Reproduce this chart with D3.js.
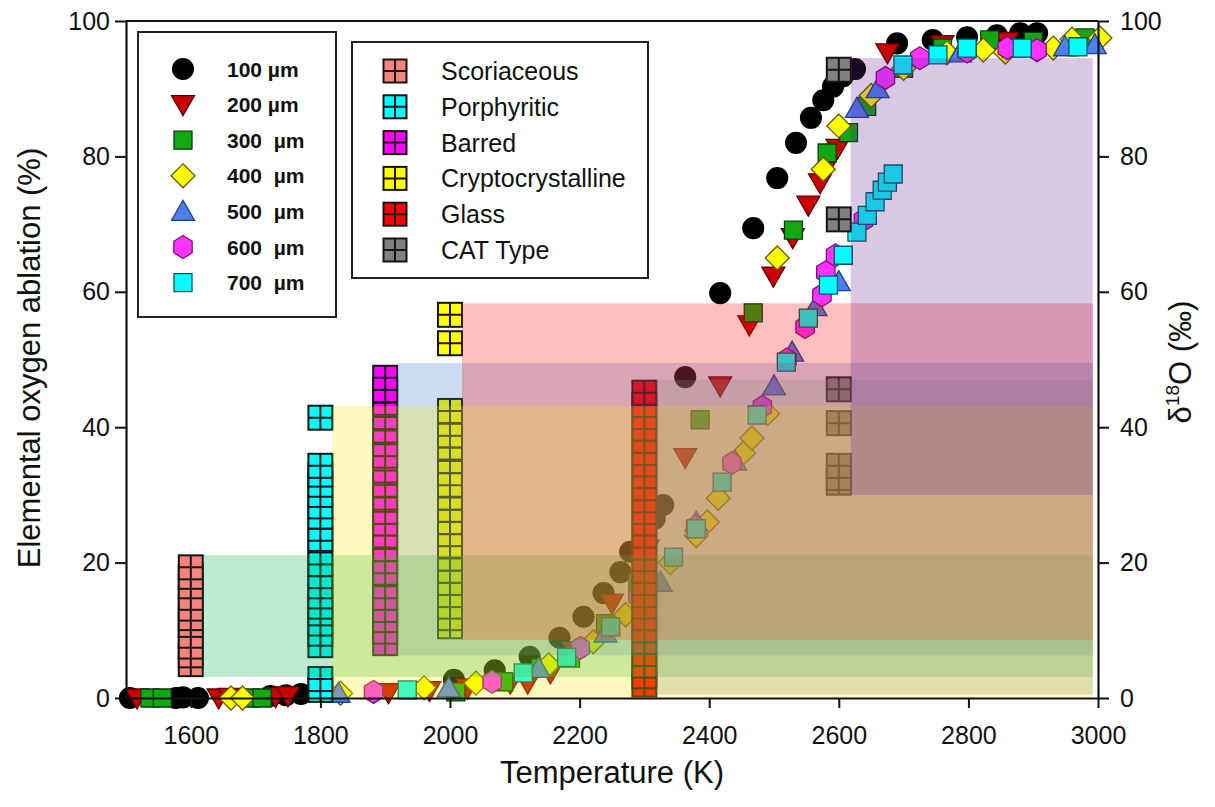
<!DOCTYPE html>
<html><head><meta charset="utf-8">
<script src="https://cdn.jsdelivr.net/npm/d3@7"></script>
<style>
body{margin:0;background:#fff}
svg{display:block}
text{font-family:Arial,"Liberation Sans",sans-serif;fill:#111}
</style>
</head><body>
<svg id="chart" width="1215" height="807"></svg>
<script>
// ---------------- DATA ----------------
const xTicks = [1600, 1800, 2000, 2200, 2400, 2600, 2800, 3000];
const yTicks = [0, 20, 40, 60, 80, 100];

const sizeLabels = ["100 µm", "200 µm", "300  µm", "400  µm", "500  µm", "600  µm", "700  µm"];

// [temperature K, elemental oxygen ablation %]
const s100 = [[1506,0],[1577,0],[1588,0.1],[1611,0],[1723,0.3],[1747,0.4],[1770,0.6],[2006,2.7],[2069,4.1],[2123,6.1],[2169,8.9],[2206,12],[2237,15.5],[2263,18.6],[2278,21.6],[2316,26.5],[2329,28.5],[2363,47.4],[2417,59.8],[2468,69.4],[2505,76.8],[2534,82],[2557,85.7],[2576,88.3],[2591,90.3],[2606,91.8],[2625,92.9],[2690,96.7],[2745,97.2],[2798,97.6],[2844,97.9],[2880,98.2],[2906,98.2]];
const s200 = [[1517,0],[1643,0],[1660,0.1],[1731,0.2],[1750,0.3],[1905,0.8],[1968,1.1],[2027,1.5],[2093,2.2],[2120,2.2],[2155,3.7],[2190,7],[2250,14],[2305,22],[2363,35.5],[2417,46.1],[2462,55.1],[2499,62.3],[2529,68],[2553,72.8],[2571,76.1],[2587,79.5],[2598,81.2],[2675,95.3],[2760,96.5],[2860,97]];
const s300 = [[1537,0],[1556,0],[1692,0],[1710,0],[2009,0.9],[2083,2.4],[2140,4.4],[2186,5.9],[2240,11],[2290,17],[2386,41.1],[2468,56.9],[2530,69.1],[2582,80.5],[2615,83.5],[2643,87.4],[2700,93],[2760,96],[2833,97.2],[2900,97],[2980,97.5]];
const s400 = [[1662,0],[1680,0],[1831,0.7],[1960,1.5],[2040,2.2],[2152,4.9],[2221,8.3],[2271,12.3],[2340,20],[2380,24],[2397,26],[2414,29.5],[2453,36.2],[2466,38.4],[2490,42],[2505,65],[2576,78.1],[2600,84.5],[2650,89],[2700,93],[2767,95.3],[2823,95.7],[2857,95.4],[2931,96],[2960,97.3],[3003,97.5]];
const s500 = [[1828,0.7],[1998,1.5],[2137,4.4],[2240,9.6],[2325,17.1],[2380,26],[2440,35],[2500,46.1],[2528,51.1],[2564,57.8],[2600,61.5],[2628,87.1],[2660,90],[2787,95.3],[2870,96],[2949,96.2],[2995,96.5]];
const s600 = [[1882,0.9],[2065,2.4],[2201,7.4],[2290,15],[2379,25.3],[2435,34.7],[2482,43],[2520,50],[2548,54.8],[2574,59.5],[2580,62.9],[2595,65.4],[2638,70.6],[2672,91.6],[2725,94.5],[2798,95.5],[2860,96],[2906,95.7]];
const s700 = [[1934,1.2],[2113,3.7],[2180,6],[2248,10.5],[2300,16],[2345,20.8],[2380,25],[2420,31.9],[2474,41.8],[2519,49.6],[2553,56.1],[2584,61],[2607,65.4],[2628,68.8],[2644,71.3],[2656,73.3],[2667,75],[2675,76.2],[2684,77.4],[2699,93.5],[2753,95],[2798,96],[2883,96],[2969,96.2]];
const sizeSeries = [s100, s200, s300, s400, s500, s600, s700];

// chondrule types: delta 18O values (per mil) plotted at a nominal temperature
const typeNames = ["Scoriaceous", "Porphyritic", "Barred", "Cryptocrystalline", "Glass", "CAT Type"];
const typeTemps = [1600, 1800, 1900, 2000, 2300, 2600];
const scoriaceous = [19.3,17.9,16.5,14.8,13.2,11.8,10.8,9.2,7.6,6.3,5.0];
const porphyritic = [41.4,34.3,33,31.5,30,28.3,26.8,25,23.5,21.5,19.8,18,16.5,15,13.5,12.5,11,9.5,7.8,2.8,1.2];
const barred = [47.3,45.5,43.6,41.5,39.5,37.5,35.8,33.6,31.5,29.6,27.5,25.8,24,22,20.2,18.5,16.5,14.8,13,11.5,9.8,8.1];
const cryptocrystalline = [56.6,52.4,42.4,40.5,38.8,37,35,33.2,31.5,29.6,27.8,26,24.2,22.5,20.6,18.8,17,15.2,13.5,11.8,10.6];
const glass = [45.1,43.3,41.5,39.8,38,36.2,34.5,32.8,31,29.2,27.5,25.8,24,22.2,20.5,18.8,17,15.2,13.5,11.8,10,8.3,6.5,4.8,3.2,2.0];
const catType = [92.8,70.7,45.6,40.6,34.3,32.5,31.8];
const typeValues = [scoriaceous, porphyritic, barred, cryptocrystalline, glass, catType];

// shaded delta 18O range of each type (per mil)
const rangeLow  = [3.1, 0, 6.3, 8.6, 0.5, 30];
const rangeHigh = [21.1, 43.1, 49.5, 58.3, 47, 94.5];

// ---------------- STYLE ----------------
const sizeFill   = ["#000000","#cc0000","#12a812","#ffff00","#4f7fef","#ff33ff","#00ffff"];
const sizeStroke = ["#000000","#5a0000","#0c3a0c","#6a5a00","#1f3f8f","#7a107a","#0a5560"];
const sizeShape  = ["circle","down","square","diamond","up","hex","square"];
const typeFill   = ["#f7847c","#00ffff","#ff00ff","#ffff00","#ff0000","#808080"];
const bandColor  = ["rgb(0,163,67)","rgb(255,235,0)","rgb(51,119,195)","rgb(255,0,0)","rgb(140,140,125)","rgb(99,35,147)"];
const bandOrder  = [0, 2, 3, 1, 4, 5];
const FONT = "Arial, Liberation Sans, sans-serif";

const svg = d3.select("#chart");
const L = 126, R = 1098, T = 21, B = 698;
const x = d3.scaleLinear().domain([1500, 3000]).range([L, R]);
const y = d3.scaleLinear().domain([0, 100]).range([B, T]);
const y2 = d3.scaleLinear().domain([0, 100]).range([B, T]);

function shapePath(kind) {
  if (kind === "circle") return d3.symbol(d3.symbolCircle, 340)();
  if (kind === "square") return "M-9,-9H9V9H-9Z";
  if (kind === "diamond") return "M0,-12L12,0L0,12L-12,0Z";
  if (kind === "up") return "M0,-11L11.5,9L-11.5,9Z";
  if (kind === "down") return "M0,11L11.5,-9L-11.5,-9Z";
  if (kind === "hex") {
    const r = 11.5, pts = [];
    for (let i = 0; i < 6; i++) { const a = Math.PI/3*i - Math.PI/2; pts.push([r*Math.cos(a)*0.92, r*Math.sin(a)]); }
    return "M" + pts.map(p => p.join(",")).join("L") + "Z";
  }
}

function crossSquare(g, cx, cy, fill, s) {
  const h = s/2;
  g.append("rect").attr("x", cx-h).attr("y", cy-h).attr("width", s).attr("height", s)
    .attr("fill", fill).attr("stroke", "#151515").attr("stroke-width", 2);
  g.append("path").attr("d", `M${cx},${cy-h}V${cy+h}M${cx-h},${cy}H${cx+h}`)
    .attr("stroke", "#151515").attr("stroke-width", 2);
}

// data markers
const gData = svg.append("g");
sizeSeries.forEach((ser, i) => {
  gData.append("g").selectAll("path").data(ser).join("path")
    .attr("d", shapePath(sizeShape[i]))
    .attr("transform", d => `translate(${x(d[0])},${y(d[1])})`)
    .attr("fill", sizeFill[i]).attr("stroke", sizeStroke[i]).attr("stroke-width", 1.3);
});

// chondrule type columns
const gCols = svg.append("g");
typeValues.forEach((vals, i) => {
  vals.slice().sort((a,b)=>a-b).forEach(v => crossSquare(gCols, x(typeTemps[i]), y2(v), typeFill[i], 24));
});

// shaded ranges, on top
const gBands = svg.append("g");
bandOrder.forEach(i => {
  gBands.append("rect")
    .attr("x", x(typeTemps[i]) + 12)
    .attr("y", y2(rangeHigh[i]))
    .attr("width", x(2992) - x(typeTemps[i]) - 12)
    .attr("height", y2(rangeLow[i]) - y2(rangeHigh[i]))
    .attr("fill", bandColor[i]).attr("fill-opacity", 0.25);
});

// frame and axes
svg.append("path").attr("d", `M${L},${T}H${R}`).attr("stroke", "#111").attr("stroke-width", 2);
const ax = svg.append("g").attr("transform", `translate(0,${B})`)
  .call(d3.axisBottom(x).tickValues(xTicks).tickFormat(d3.format("d")).tickSize(10).tickSizeOuter(0).tickPadding(18));
const ayl = svg.append("g").attr("transform", `translate(${L},0)`)
  .call(d3.axisLeft(y).tickValues(yTicks).tickSize(11).tickSizeOuter(0).tickPadding(5));
const ayr = svg.append("g").attr("transform", `translate(${R},0)`)
  .call(d3.axisRight(y2).tickValues(yTicks).tickSize(11).tickSizeOuter(0).tickPadding(11));
[ax, ayl, ayr].forEach(g => {
  g.selectAll("path.domain").attr("stroke", "#111").attr("stroke-width", 2.2);
  g.selectAll(".tick line").attr("stroke", "#111").attr("stroke-width", 2);
  g.selectAll(".tick text").attr("font-size", 25).attr("font-family", FONT).attr("fill", "#111");
});

// titles
svg.append("text").attr("x", 612).attr("y", 783).attr("text-anchor", "middle")
  .attr("font-size", 31).text("Temperature (K)");
svg.append("text").attr("transform", "translate(40,358) rotate(-90)").attr("text-anchor", "middle")
  .attr("font-size", 31).text("Elemental oxygen ablation (%)");
const rt = svg.append("text").attr("transform", "translate(1191,362) rotate(-90)").attr("text-anchor", "middle")
  .attr("font-size", 31);
rt.append("tspan").text("δ");
rt.append("tspan").attr("font-size", 19).attr("dy", -12).text("18");
rt.append("tspan").attr("dy", 12).text("O (‰)");

// legend 1
const lg1 = svg.append("g");
lg1.append("rect").attr("x", 138).attr("y", 32).attr("width", 198).attr("height", 285)
  .attr("fill", "#fff").attr("stroke", "#222").attr("stroke-width", 2);
sizeLabels.forEach((lab, i) => {
  const cy = 69 + i * 35.6;
  lg1.append("path").attr("d", shapePath(sizeShape[i])).attr("transform", `translate(183,${cy})`)
    .attr("fill", sizeFill[i]).attr("stroke", sizeStroke[i]).attr("stroke-width", 1.3);
  lg1.append("text").attr("x", 227).attr("y", cy + 7.5).attr("font-size", 21).attr("font-weight", "bold")
    .style("white-space", "pre").text(lab);
});

// legend 2
const lg2 = svg.append("g");
lg2.append("rect").attr("x", 352).attr("y", 42).attr("width", 296).attr("height", 236)
  .attr("fill", "#fff").attr("stroke", "#222").attr("stroke-width", 2);
typeNames.forEach((nm, i) => {
  const cy = 71 + i * 35.8;
  crossSquare(lg2, 395, cy, typeFill[i], 23);
  lg2.append("text").attr("x", 441).attr("y", cy + 9).attr("font-size", 25).text(nm);
});
</script>
</body></html>
